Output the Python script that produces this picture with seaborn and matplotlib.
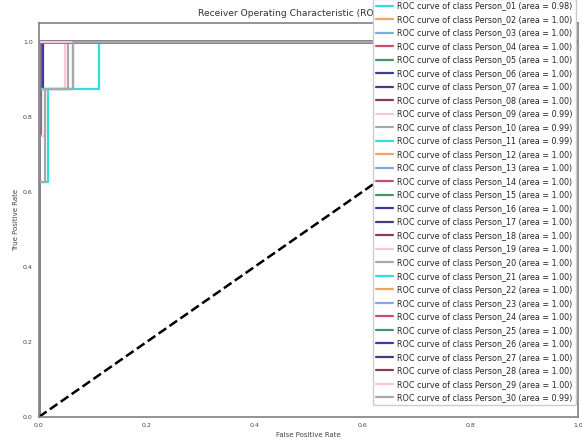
import numpy as np
import pandas as pd
import matplotlib
matplotlib.use("Agg")
import matplotlib.pyplot as plt
import seaborn as sns

# Class names
classes = [
    "Person_01", "Person_02", "Person_03", "Person_04", "Person_05",
    "Person_06", "Person_07", "Person_08", "Person_09", "Person_10",
    "Person_11", "Person_12", "Person_13", "Person_14", "Person_15",
    "Person_16", "Person_17", "Person_18", "Person_19", "Person_20",
    "Person_21", "Person_22", "Person_23", "Person_24", "Person_25",
    "Person_26", "Person_27", "Person_28", "Person_29", "Person_30",
]

# ROC points for classes that are not perfectly separated (one-vs-rest)
fpr_01 = [0.0, 0.0, 0.017, 0.017, 0.111, 0.111, 1.0]
tpr_01 = [0.0, 0.625, 0.625, 0.875, 0.875, 1.0, 1.0]
fpr_04 = [0.0, 0.0, 0.004, 0.004, 1.0]
tpr_04 = [0.0, 0.75, 0.75, 1.0, 1.0]
fpr_06 = [0.0, 0.0, 0.007, 0.007, 1.0]
tpr_06 = [0.0, 0.875, 0.875, 1.0, 1.0]
fpr_09 = [0.0, 0.0, 0.011, 0.011, 0.048, 0.048, 1.0]
tpr_09 = [0.0, 0.75, 0.75, 0.875, 0.875, 1.0, 1.0]
fpr_10 = [0.0, 0.0, 0.054, 0.054, 1.0]
tpr_10 = [0.0, 0.875, 0.875, 1.0, 1.0]
fpr_11 = [0.0, 0.0, 0.063, 0.063, 1.0]
tpr_11 = [0.0, 0.875, 0.875, 1.0, 1.0]
fpr_30 = [0.0, 0.0, 0.011, 0.011, 0.063, 0.063, 1.0]
tpr_30 = [0.0, 0.625, 0.625, 0.875, 0.875, 1.0, 1.0]

# Perfect classifier curve shared by the remaining classes
fpr_perfect = [0.0, 0.0, 1.0]
tpr_perfect = [0.0, 1.0, 1.0]

roc_points = {
    "Person_01": (fpr_01, tpr_01),
    "Person_04": (fpr_04, tpr_04),
    "Person_06": (fpr_06, tpr_06),
    "Person_09": (fpr_09, tpr_09),
    "Person_10": (fpr_10, tpr_10),
    "Person_11": (fpr_11, tpr_11),
    "Person_30": (fpr_30, tpr_30),
}

line_colors = [
    "#33dddd", "#f4a460", "#7fa8e0", "#c8506a", "#3f9a68",
    "#3a3aa0", "#4b3b7a", "#8b3a4a", "#f4c8d8", "#a8a8a8",
]

sns.set_style("white")
plt.rcParams["font.family"] = ["DejaVu Sans"]
plt.rcParams["axes.edgecolor"] = "#808080"
plt.rcParams["axes.linewidth"] = 1.2

fig, ax = plt.subplots(figsize=(5.82, 4.43), dpi=100)
fig.subplots_adjust(left=0.067, right=0.993, bottom=0.059, top=0.948)

for i, name in enumerate(classes):
    fpr, tpr = roc_points.get(name, (fpr_perfect, tpr_perfect))
    fpr = np.asarray(fpr)
    tpr = np.asarray(tpr)
    area = float(np.sum(np.diff(fpr) * (tpr[1:] + tpr[:-1]) / 2.0))
    df = pd.DataFrame({"fpr": fpr, "tpr": tpr})
    sns.lineplot(
        data=df, x="fpr", y="tpr", ax=ax, estimator=None, sort=False,
        color=line_colors[i % len(line_colors)], lw=1.6,
        label=f"ROC curve of class {name} (area = {area:.2f})",
    )

# Chance diagonal
diag = pd.DataFrame({"fpr": [0.0, 1.0], "tpr": [0.0, 1.0]})
sns.lineplot(data=diag, x="fpr", y="tpr", ax=ax, estimator=None, sort=False,
             color="black", lw=1.8, linestyle="--")

ax.set_xlim(0.0, 1.0)
ax.set_ylim(0.0, 1.05)
ax.set_xticks(np.arange(0.0, 1.01, 0.2))
ax.set_yticks(np.arange(0.0, 1.01, 0.2))
ax.tick_params(labelsize=4.5, length=2.5, width=0.8, colors="#666666",
               labelcolor="#444444", pad=2)
ax.set_xlabel("False Positive Rate", fontsize=5, color="#444444", labelpad=3)
ax.set_ylabel("True Positive Rate", fontsize=5, color="#444444", labelpad=3)
ax.set_title("Receiver Operating Characteristic (ROC) Curves", fontsize=6.6,
             color="#333333", pad=5)

leg = ax.legend(loc="lower right", bbox_to_anchor=(0.996, 0.03),
                borderaxespad=0.0, fontsize=5.8, labelspacing=0.56,
                handlelength=2.1, handletextpad=0.6, framealpha=1.0,
                edgecolor="#cccccc", fancybox=True, borderpad=0.35)
leg.set_zorder(10)

fig.savefig("out.png", dpi=100)
